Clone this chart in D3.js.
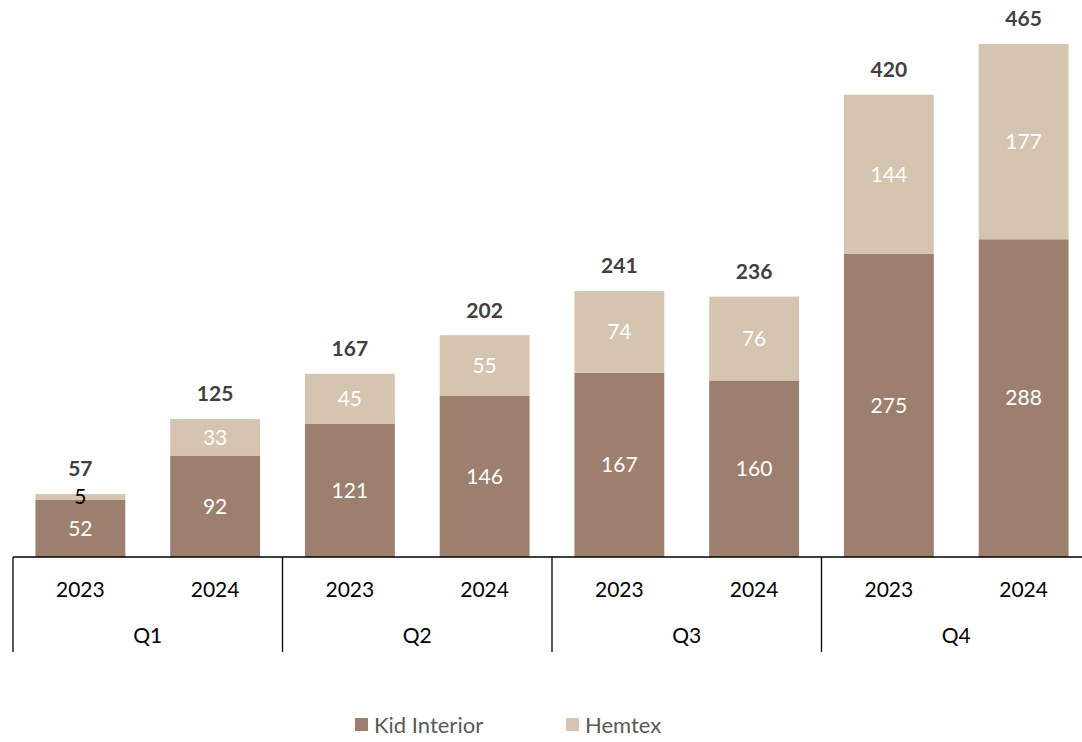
<!DOCTYPE html>
<head>
	<meta charset="utf-8">
	<script src="https://d3js.org/d3.v7.min.js"></script>
	<style>
		body { margin: 0; background: #fff; }
		text { font-family: Lato, "Open Sans", sans-serif; }
	</style>
</head>
<body>
	<script type="text/javascript">
		var width = 1082, height = 742;

		// data
		var quarters = ["Q1", "Q2", "Q3", "Q4"];
		var years = ["2023", "2024"];
		var kidInterior = [52, 92, 121, 146, 167, 160, 275, 288];
		var hemtex = [5, 33, 45, 55, 74, 76, 144, 177];
		// totals as printed (rounded separately in the source)
		var totals = [57, 125, 167, 202, 241, 236, 420, 465];
		var seriesNames = ["Kid Interior", "Hemtex"];
		var colors = ["#9c7f6e", "#d4c4b0"];

		var rows = [];
		quarters.forEach(function(q, qi) {
			years.forEach(function(y, yi) {
				var i = qi * 2 + yi;
				rows.push({ key: q + "-" + y, quarter: q, year: y, kid: kidInterior[i], hem: hemtex[i], total: totals[i] });
			});
		});

		var left = 13, groupW = 269.5, baseY = 557;

		var svg = d3.select("body").append("svg")
			.attr("width", width)
			.attr("height", height);

		var x = d3.scaleBand()
			.domain(rows.map(function(d) { return d.key; }))
			.range([left, left + groupW * quarters.length])
			.paddingInner(0.333)
			.paddingOuter(0.1665);

		var y = d3.scaleLinear()
			.domain([0, 465])
			.range([baseY, 44]);

		var stack = d3.stack().keys(["kid", "hem"]);
		var layers = stack(rows);

		svg.selectAll("g.layer")
			.data(layers)
			.enter().append("g")
			.attr("class", "layer")
			.attr("fill", function(d, i) { return colors[i]; })
			.selectAll("rect")
			.data(function(d) { return d; })
			.enter().append("rect")
			.attr("x", function(d) { return x(d.data.key); })
			.attr("y", function(d) { return y(d[1]); })
			.attr("width", x.bandwidth())
			.attr("height", function(d) { return y(d[0]) - y(d[1]); });

		// segment labels
		layers.forEach(function(layer, li) {
			svg.selectAll("text.seg" + li)
				.data(layer)
				.enter().append("text")
				.attr("x", function(d) { return x(d.data.key) + x.bandwidth() / 2; })
				.attr("y", function(d) { return (y(d[0]) + y(d[1])) / 2; })
				.attr("dy", "0.35em")
				.attr("text-anchor", "middle")
				.attr("font-size", 21)
				.attr("fill", function(d) { return (d[1] - d[0]) < 10 ? "#000" : "#fff"; })
				.text(function(d) { return d[1] - d[0]; });
		});

		// totals
		svg.selectAll("text.total")
			.data(rows)
			.enter().append("text")
			.attr("class", "total")
			.attr("x", function(d) { return x(d.key) + x.bandwidth() / 2; })
			.attr("y", function(d) { return y(d.kid + d.hem) - 25; })
			.attr("dy", "0.35em")
			.attr("text-anchor", "middle")
			.attr("font-size", 21)
			.attr("font-weight", "bold")
			.attr("fill", "#404040")
			.text(function(d) { return d.total; });

		// axis
		svg.append("line")
			.attr("x1", left).attr("x2", width)
			.attr("y1", baseY).attr("y2", baseY)
			.attr("stroke", "#000").attr("stroke-width", 1.3);

		d3.range(quarters.length + 1).forEach(function(i) {
			svg.append("line")
				.attr("x1", left + groupW * i).attr("x2", left + groupW * i)
				.attr("y1", baseY).attr("y2", 652)
				.attr("stroke", "#000").attr("stroke-width", 1.3);
		});

		svg.selectAll("text.year")
			.data(rows)
			.enter().append("text")
			.attr("x", function(d) { return x(d.key) + x.bandwidth() / 2; })
			.attr("y", 590)
			.attr("dy", "0.35em")
			.attr("text-anchor", "middle")
			.attr("font-size", 21)
			.attr("fill", "#000")
			.text(function(d) { return d.year; });

		svg.selectAll("text.quarter")
			.data(quarters)
			.enter().append("text")
			.attr("x", function(d, i) { return left + groupW * (i + 0.5); })
			.attr("y", 636)
			.attr("dy", "0.35em")
			.attr("text-anchor", "middle")
			.attr("font-size", 21)
			.attr("fill", "#000")
			.text(function(d) { return d; });

		// legend
		var legendX = [355, 566];
		var legend = svg.selectAll("g.legend")
			.data(seriesNames)
			.enter().append("g")
			.attr("transform", function(d, i) { return "translate(" + legendX[i] + ",718)"; });
		legend.append("rect")
			.attr("width", 13).attr("height", 13)
			.attr("fill", function(d, i) { return colors[i]; });
		legend.append("text")
			.attr("x", 19).attr("y", 7)
			.attr("dy", "0.35em")
			.attr("font-size", 22)
			.attr("fill", "#595959")
			.text(function(d) { return d; });
	</script>
</body>
